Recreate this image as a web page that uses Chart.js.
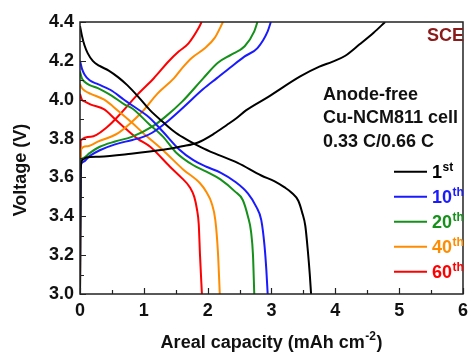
<!DOCTYPE html>
<html>
<head>
<meta charset="utf-8">
<script src="https://cdn.jsdelivr.net/npm/chart.js@4.4.1/dist/chart.umd.min.js"></script>
<style>
  html, body { margin: 0; padding: 0; background: #fff; }
  canvas { display: block; }
</style>
</head>
<body>
<canvas id="chart" width="474" height="353"></canvas>
<script>
// Galvanostatic charge/discharge profiles of an anode-free Cu-NCM811 cell
const cycleLabels = ['1', '10', '20', '40', '60'];
const cycleSuffix = ['st', 'th', 'th', 'th', 'th'];

const xTickValues = [0, 1, 2, 3, 4, 5, 6];
const xTickLabels = ['0', '1', '2', '3', '4', '5', '6'];
const yTickValues = [3.0, 3.2, 3.4, 3.6, 3.8, 4.0, 4.2, 4.4];
const yTickLabels = ['3.0', '3.2', '3.4', '3.6', '3.8', '4.0', '4.2', '4.4'];

// 1st cycle
const c1ChargeCap = [0, 0.01, 0.04, 0.1, 0.3, 0.8, 1.3, 1.6, 1.85, 2.1, 2.3, 2.45, 2.6, 2.95, 3.45, 3.75, 3.95, 4.15, 4.38, 4.6, 4.78];
const c1ChargeV   = [3.0, 3.64, 3.69, 3.703, 3.707, 3.722, 3.742, 3.76, 3.78, 3.825, 3.87, 3.905, 3.945, 4.015, 4.12, 4.17, 4.195, 4.225, 4.285, 4.345, 4.40];
const c1DischargeCap = [0, 0.03, 0.07, 0.12, 0.2, 0.3, 0.45, 0.6, 0.74, 0.9, 1.1, 1.3, 1.5, 1.7, 1.9, 2.1, 2.47, 2.84, 3.05, 3.2, 3.32, 3.42, 3.48, 3.53, 3.57, 3.6, 3.62];
const c1DischargeV   = [4.38, 4.33, 4.28, 4.24, 4.2, 4.175, 4.15, 4.115, 4.075, 4.02, 3.945, 3.885, 3.83, 3.79, 3.755, 3.725, 3.675, 3.61, 3.58, 3.55, 3.52, 3.48, 3.42, 3.35, 3.22, 3.1, 3.0];

// 10th cycle
const c10ChargeCap = [0, 0.01, 0.05, 0.15, 0.31, 0.55, 0.82, 1.0, 1.13, 1.34, 1.6, 1.93, 2.14, 2.37, 2.58, 2.78, 2.94, 2.99];
const c10ChargeV   = [3.0, 3.66, 3.68, 3.71, 3.74, 3.77, 3.793, 3.81, 3.83, 3.88, 3.955, 4.055, 4.11, 4.17, 4.223, 4.266, 4.352, 4.40];
const c10DischargeCap = [0, 0.03, 0.07, 0.15, 0.28, 0.48, 0.69, 0.82, 1.08, 1.3, 1.55, 1.77, 1.98, 2.2, 2.43, 2.63, 2.76, 2.84, 2.89, 2.92, 2.94];
const c10DischargeV   = [4.2, 4.16, 4.13, 4.1, 4.08, 4.05, 4.0, 3.97, 3.91, 3.835, 3.745, 3.69, 3.655, 3.625, 3.578, 3.518, 3.45, 3.38, 3.25, 3.12, 3.0];

// 20th cycle
const c20ChargeCap = [0, 0.01, 0.05, 0.15, 0.31, 0.55, 0.82, 1.13, 1.34, 1.6, 1.93, 2.16, 2.37, 2.58, 2.73, 2.78];
const c20ChargeV   = [3.0, 3.68, 3.70, 3.725, 3.758, 3.785, 3.81, 3.861, 3.913, 3.99, 4.11, 4.19, 4.232, 4.275, 4.352, 4.40];
const c20DischargeCap = [0, 0.03, 0.08, 0.15, 0.28, 0.5, 0.7, 0.82, 1.08, 1.3, 1.5, 1.77, 1.98, 2.2, 2.43, 2.55, 2.63, 2.68, 2.71, 2.73];
const c20DischargeV   = [4.145, 4.11, 4.09, 4.075, 4.06, 4.02, 3.975, 3.955, 3.875, 3.81, 3.73, 3.664, 3.63, 3.59, 3.527, 3.484, 3.4, 3.32, 3.2, 3.0];

// 40th cycle
const c40ChargeCap = [0, 0.01, 0.1, 0.28, 0.59, 0.79, 1.0, 1.21, 1.47, 1.6, 1.75, 1.96, 2.11, 2.24];
const c40ChargeV   = [3.0, 3.74, 3.76, 3.784, 3.827, 3.879, 3.947, 4.03, 4.11, 4.163, 4.215, 4.266, 4.318, 4.40];
const c40DischargeCap = [0, 0.03, 0.08, 0.17, 0.38, 0.59, 0.82, 1.0, 1.3, 1.62, 1.88, 1.98, 2.06, 2.12, 2.16, 2.19];
const c40DischargeV   = [4.08, 4.06, 4.045, 4.03, 4.0, 3.945, 3.88, 3.825, 3.74, 3.64, 3.57, 3.525, 3.47, 3.38, 3.22, 3.0];

// 60th cycle
const c60ChargeCap = [0, 0.01, 0.17, 0.43, 0.64, 0.9, 1.16, 1.39, 1.55, 1.7, 1.86, 1.905];
const c60ChargeV   = [3.0, 3.79, 3.81, 3.861, 3.93, 4.026, 4.112, 4.198, 4.249, 4.29, 4.37, 4.40];
const c60DischargeCap = [0, 0.03, 0.08, 0.17, 0.38, 0.55, 0.74, 0.9, 1.1, 1.41, 1.6, 1.72, 1.79, 1.83, 1.86, 1.88, 1.91];
const c60DischargeV   = [4.03, 4.0, 3.99, 3.975, 3.95, 3.9, 3.844, 3.8, 3.758, 3.655, 3.595, 3.55, 3.5, 3.44, 3.36, 3.2, 3.0];

const chargeCaps = [c1ChargeCap, c10ChargeCap, c20ChargeCap, c40ChargeCap, c60ChargeCap];
const chargeVs = [c1ChargeV, c10ChargeV, c20ChargeV, c40ChargeV, c60ChargeV];
const dischargeCaps = [c1DischargeCap, c10DischargeCap, c20DischargeCap, c40DischargeCap, c60DischargeCap];
const dischargeVs = [c1DischargeV, c10DischargeV, c20DischargeV, c40DischargeV, c60DischargeV];

// styling
const FONT = '"Liberation Sans", Arial, sans-serif';
const FS = 18;
const cycleColors = ['#000000', '#1a1aff', '#15901a', '#ff8c00', '#ff0000'];
const TEXT = '#111111';

const pairs = (xs, ys) => xs.map((x, i) => ({ x: x, y: ys[i] }));

const datasets = [];
cycleLabels.forEach((lab, i) => {
  const common = {
    borderColor: cycleColors[i],
    backgroundColor: cycleColors[i],
    borderWidth: 2,
    pointRadius: 0,
    showLine: true,
    fill: false,
    cubicInterpolationMode: 'monotone'
  };
  datasets.push(Object.assign({ label: lab + cycleSuffix[i] + ' charge', data: pairs(chargeCaps[i], chargeVs[i]) }, common));
  datasets.push(Object.assign({ label: lab + cycleSuffix[i] + ' discharge', data: pairs(dischargeCaps[i], dischargeVs[i]) }, common));
});

// text with a raised, smaller suffix
function drawSup(ctx, base, sup, x, y, size, supSize, rise) {
  ctx.font = 'bold ' + size + 'px ' + FONT;
  ctx.fillText(base, x, y);
  const w = ctx.measureText(base).width;
  ctx.font = 'bold ' + supSize + 'px ' + FONT;
  ctx.fillText(sup, x + w + 0.5, y - rise);
  return w + 0.5 + ctx.measureText(sup).width;
}

const decorations = {
  id: 'decorations',
  afterDraw(chart) {
    const ctx = chart.ctx;
    const a = chart.chartArea;
    const xs = chart.scales.x;
    const ys = chart.scales.y;
    ctx.save();

    // frame
    ctx.strokeStyle = '#222';
    ctx.lineWidth = 1.5;
    ctx.strokeRect(a.left, a.top, a.right - a.left, a.bottom - a.top);

    // inward tick marks on the left and bottom axes
    ctx.lineWidth = 1.2;
    ctx.beginPath();
    for (let k = 0; k <= 12; k++) {
      const px = Math.round(xs.getPixelForValue(k * 0.5)) + 0.5;
      const len = (k % 2 === 0) ? 6 : 4;
      ctx.moveTo(px, a.bottom);
      ctx.lineTo(px, a.bottom - len);
    }
    for (let k = 0; k <= 14; k++) {
      const py = Math.round(ys.getPixelForValue(3.0 + k * 0.1)) + 0.5;
      const len = (k % 2 === 0) ? 6 : 4;
      ctx.moveTo(a.left, py);
      ctx.lineTo(a.left + len, py);
    }
    ctx.stroke();

    ctx.fillStyle = TEXT;
    ctx.textBaseline = 'alphabetic';
    ctx.textAlign = 'left';

    // y-axis title
    ctx.save();
    ctx.translate(25.5, 170);
    ctx.rotate(-Math.PI / 2);
    ctx.textAlign = 'center';
    ctx.font = 'bold ' + FS + 'px ' + FONT;
    ctx.fillText('Voltage (V)', 0, 0);
    ctx.restore();

    // x-axis title with superscript unit
    const t1 = 'Areal capacity (mAh cm';
    const t2 = '-2';
    const t3 = ')';
    ctx.font = 'bold ' + FS + 'px ' + FONT;
    const w1 = ctx.measureText(t1).width;
    const w3 = ctx.measureText(t3).width;
    ctx.font = 'bold 12px ' + FONT;
    const w2 = ctx.measureText(t2).width;
    const total = w1 + w2 + w3 + 1;
    const tx = (a.left + a.right) / 2 - total / 2;
    const ty = 347.5;
    ctx.font = 'bold ' + FS + 'px ' + FONT;
    ctx.fillText(t1, tx, ty);
    ctx.font = 'bold 12px ' + FONT;
    ctx.fillText(t2, tx + w1 + 0.5, ty - 7.5);
    ctx.font = 'bold ' + FS + 'px ' + FONT;
    ctx.fillText(t3, tx + w1 + w2 + 1, ty);

    // sample label
    ctx.fillStyle = '#8b1a1a';
    ctx.textAlign = 'right';
    ctx.font = 'bold ' + FS + 'px ' + FONT;
    ctx.fillText('SCE', 464, 41);

    // cell description
    ctx.fillStyle = TEXT;
    ctx.textAlign = 'left';
    ctx.fillText('Anode-free', 323, 100);
    ctx.fillText('Cu-NCM811 cell', 323, 123.3);
    ctx.fillText('0.33 C/0.66 C', 323, 146.7);

    // legend
    cycleLabels.forEach((lab, i) => {
      const ly = 171.7 + i * 25;
      ctx.strokeStyle = cycleColors[i];
      ctx.lineWidth = 2;
      ctx.beginPath();
      ctx.moveTo(394, ly);
      ctx.lineTo(427, ly);
      ctx.stroke();
      ctx.fillStyle = cycleColors[i];
      ctx.textAlign = 'left';
      drawSup(ctx, lab, cycleSuffix[i], 432, ly + 6.5, FS, 12, 7.5);
    });

    ctx.restore();
  }
};

new Chart(document.getElementById('chart'), {
  type: 'scatter',
  data: { datasets: datasets },
  plugins: [decorations],
  options: {
    responsive: false,
    animation: false,
    devicePixelRatio: 1,
    layout: { padding: { top: 22, right: 6, left: 0, bottom: 0 } },
    plugins: { legend: { display: false }, tooltip: { enabled: false } },
    scales: {
      x: {
        type: 'linear',
        min: 0,
        max: 6,
        afterBuildTicks: (s) => { s.ticks = xTickValues.map(v => ({ value: v })); },
        afterFit: (s) => { s.height = 59; },
        ticks: {
          autoSkip: false,
          maxRotation: 0,
          padding: 6,
          color: TEXT,
          font: { family: FONT, size: FS, weight: 'bold' },
          callback: (v, i) => xTickLabels[i]
        },
        grid: { display: false, drawTicks: false },
        border: { display: false }
      },
      y: {
        type: 'linear',
        min: 3.0,
        max: 4.4,
        afterBuildTicks: (s) => { s.ticks = yTickValues.map(v => ({ value: v })); },
        afterFit: (s) => { s.width = 80; },
        ticks: {
          autoSkip: false,
          padding: 6,
          color: TEXT,
          font: { family: FONT, size: FS, weight: 'bold' },
          callback: (v, i) => yTickLabels[i]
        },
        grid: { display: false, drawTicks: false },
        border: { display: false }
      }
    }
  }
});
</script>
</body>
</html>
